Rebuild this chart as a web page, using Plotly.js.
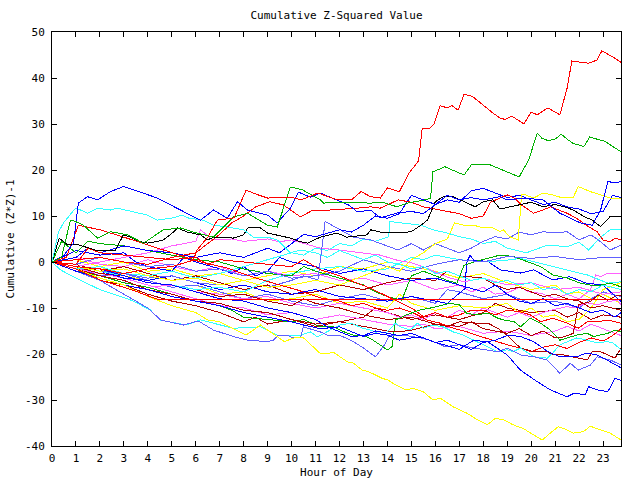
<!DOCTYPE html>
<html><head><meta charset="utf-8">
<script src="https://cdn.plot.ly/plotly-3.0.1.min.js"></script>
<style>html,body{margin:0;padding:0;background:#fff}#chart{width:640px;height:480px}
.scatterlayer path.js-line{shape-rendering:crispEdges}</style>
</head><body><div id="chart"></div>
<script>
const titleText = 'Cumulative Z-Squared Value';
const xTitle = 'Hour of Day';
const yTitle = 'Cumulative (Z*Z)-1';
const xTickVals = [0,1,2,3,4,5,6,7,8,9,10,11,12,13,14,15,16,17,18,19,20,21,22,23];
const yTickVals = [-40,-30,-20,-10,0,10,20,30,40,50];

const r1Hours = [0,1,2,3,4,5,5.9,6.05,6.5,6.9,7.6,8.1,8.6,9,9.95,10.4,11.1,11.9,12.5,12.9,13.3,13.7,14,14.5,14.9,15.3,15.45,15.75,15.95,16.2,16.5,16.7,16.95,17.2,17.55,17.9,18.4,18.7,18.9,19.2,19.7,20,20.25,20.7,21.2,21.5,21.7,22.1,22.4,22.75,22.95,23.4,23.75];
const r1Vals = [0,-1,-1.5,-2.5,-1.5,-1,0.4,2.6,5.4,9.1,9.6,15.6,14.6,13.9,14.1,13.5,15,13.5,13.5,15.3,14.2,13.9,16.1,15.3,19.3,22,29,29,30,34,33.5,34,33,36.5,36,34.5,32.4,31.3,31,31.7,30,32.6,32,33.5,32,37.8,43.7,43.4,43.2,43.9,45.9,44.6,43.4];

const g1Hours = [0,0.4,0.77,0.98,1.31,1.9,2.44,3.15,3.82,4.65,5.36,5.9,6.74,7.57,8.16,9,9.4,9.95,10.45,11.2,11.33,11.9,13.3,13.8,14.4,14.95,15.2,15.8,15.9,16.4,17.2,17.5,18.2,19.5,19.9,20.25,20.45,20.7,21,21.25,21.5,21.75,22.2,22.45,22.75,23.1,23.4,23.75];
const g1Vals = [0,1,9.1,8.8,8,5.2,6.6,5.9,4.1,7,7.4,6.5,5.4,9.8,10.6,8,7.6,16.3,15.7,13.5,12.8,13,12.8,13,12,13,13.1,13.8,19.6,20.7,18.9,21.1,21.3,18.5,22.2,28,26.9,26.4,26.7,27.8,26.7,25.8,25.1,27.2,26.7,26.2,25.1,24];

const b1Hours = [0,0.5,0.9,1.1,1.48,1.9,2.44,2.98,3.4,4.4,5.36,6.2,6.74,7.32,7.74,8.16,9,9.4,9.95,10.28,10.78,11.2,12.37,12.75,13.3,13.7,14.45,15,15.5,16,16.5,17,17.5,18,18.7,19,19.75,20.5,21.2,22.05,22.55,22.9,23.2,23.5,23.75];
const b1Vals = [0,1.5,4.1,12.8,14.2,13.5,15.3,16.4,15.7,13.9,11.3,9.1,11.3,9.5,13.1,11.3,10.2,8.5,11.7,15.2,14.1,15,12.4,10.9,11.3,9.6,10.7,11,10.5,12.5,14.5,13.5,14,13.5,14.2,13.5,13.9,13.5,10.6,8.5,8,11.3,17.5,17.2,17.5];

const c1Hours = [0,0.27,0.48,0.98,1.19,1.48,1.9,2.44,2.73,3.4,3.98,4.4,5.07,5.44,5.65,6.32,6.74,7.32,7.99,8.41,9,9.4,9.95,10.37,11,11.5,12,12.5,13,13.5,14,14.5,15,15.5,16,16.5,17,17.5,18,18.5,19,19.5,20,20.5,21,21.5,22,22.5,23,23.75];
const c1Vals = [0,6.5,8.5,11.7,11.3,10.6,11.7,11.3,11.7,10.9,10.2,9.1,9.6,10.2,9.6,9.1,8,7.6,7,5.4,5.4,4.8,2,2.6,2,1,2.5,1.5,0.5,1.5,0,-0.5,-1.5,-1,-2.5,-2,-3,-4,-3.5,-4.5,-4,-5,-4.5,-6,-5.5,-7,-6,-6.5,-5,-6];

const k1Hours = [0,0.3,0.65,1.13,1.81,2.65,2.98,3.27,3.69,3.98,4.32,4.65,5.07,5.24,5.65,6.2,6.49,6.74,7.57,7.99,8.2,8.7,9,9.4,9.95,10.37,10.66,11.2,11.9,12.3,13.15,13.3,13.7,14.45,15,15.4,15.67,16,16.33,16.75,17.3,17.67,18,18.4,18.7,19.5,20,20.5,21,21.4,21.75,22.2,22.55,22.9,23.3,23.75];
const k1Vals = [0,5.2,3.7,3.7,2.6,2.6,5.9,5.4,4.4,4.1,4.4,4.8,6.5,7.4,6.5,5.9,4.8,5.4,5.2,5.9,7.6,7.4,6.3,5.9,5.2,4.4,4.1,5.4,6.3,5.4,5.9,7,6.5,6.3,6.6,8,9.1,13.1,14.2,14.2,12.8,12,13.1,13.5,11.5,12.5,13,12,12.5,12,11.3,9.9,9.1,7.7,9.9,9.9];

const y1Hours = [0,1,2,3,4,5,6,6.5,7,8.1,8.7,9.7,10.1,10.5,11.2,11.49,11.74,12.04,12.33,12.58,12.95,13.2,13.79,14.04,14.33,14.75,15.08,15.5,15.9,16.2,16.75,17.33,17.75,18.17,18.5,18.84,19.25,19.67,20.1,20.46,20.8,21.13,21.5,21.76,22.17,22.47,22.9,23.3,23.75];
const y1Vals = [0,-1.5,-3.5,-5,-7.5,-9.5,-11,-12.6,-13,-15.9,-13.7,-17.3,-16.5,-16.5,-19.9,-19.9,-19.6,-20.6,-21.7,-22,-23.5,-23.8,-25.3,-25.7,-26.7,-27.8,-27.5,-28.2,-30,-29.6,-31.5,-32.9,-34.3,-35.4,-34,-34.3,-35.4,-36.2,-37.6,-38.7,-37.2,-35.8,-36.5,-37.2,-36.9,-35.7,-36.5,-37.2,-38.7];

const b2Hours = [0,1,2,3,4,5,6,7,8,9,10,10.5,11.2,12,12.5,13,13.5,14,14.5,15,15.5,16,16.5,17,17.6,18.2,19,19.55,20.25,20.8,21.5,21.8,22.25,22.4,22.75,23.2,23.5,23.75];
const b2Vals = [0,-2,-3.5,-5,-6,-7.5,-8.5,-9.5,-11,-12,-13,-13.7,-14.5,-14.1,-15.2,-16.2,-15.5,-15.9,-17,-16.5,-16.5,-17.5,-18.2,-19,-17,-17.4,-20.2,-23.5,-26,-27.8,-29.3,-28.5,-28.9,-27.1,-27.8,-28.2,-25.3,-25.7];

const b3Hours = [0,1,2,3,4,5,6,7,8,9,10,11,11.5,12,12.5,13,13.5,14,14.5,15,15.5,16,16.5,17,17.5,18,18.5,19.05,19.55,20.1,20.7,21.2,21.9,22.3,22.75,23.3,23.75];
const b3Vals = [0,-1,-1.5,-3,-4.5,-5,-6.5,-8,-8.5,-10,-11,-12.5,-14.1,-15.2,-16.2,-16,-15,-15.5,-16,-15.5,-16.5,-17.5,-17,-18,-19,-17.5,-17,-15.9,-16.2,-17.3,-19.5,-20.6,-20.6,-19.8,-20.2,-21.7,-23];

const sb1Hours = [0,1,2,3,4,4.53,4.94,5.49,6.1,6.74,7.57,8.16,9,9.24,9.45,9.82,10.07,10.37,10.49,11.2,11.5,12,12.58,13,13.5,13.83,14.1,14.66,15.37,15.79,16.4,17.04,17.6,18.17,18.6,19,19.55,20.1,20.67,21.2,21.63,21.97,22.47,22.76,23.3,23.75];
const sb1Vals = [0,-2,-4,-7,-10,-12.6,-13,-13.7,-12.8,-14.8,-16.2,-17,-17.3,-17,-15.9,-15.9,-16.5,-16.5,-14.1,-15.2,-15.9,-15.9,-17.3,-18.7,-20.6,-18.4,-15.9,-15.9,-16.5,-17,-18.4,-18,-18.7,-19.1,-19.5,-18.7,-20.2,-20.6,-21.3,-24.2,-22,-23.5,-22.4,-20.6,-21.3,-22.4];

const c2Hours = [0,0.35,1,2,3.3,4.1,4.5,5.6,6.2,6.7,7.57,8.7,9.4,9.8,10.37,10.8,11.08,12,12.5,12.95,13.3,13.6,14,14.33,14.54,14.95,15.25,15.5,15.9,16.33,16.75,17.17,17.6,18.17,18.6,19,19.25,19.55,20.1,20.67,20.9,21.2,21.5,21.9,22.34,22.76,23.17,23.42,23.75];
const c2Vals = [0,-1.7,-3.5,-6,-8.3,-10.4,-12.6,-13.7,-12.6,-13.3,-14.4,-14.1,-15.9,-15.9,-15.9,-15.2,-16.3,-13.7,-13.3,-14.4,-14.8,-15.5,-15.2,-13.3,-14.1,-14.8,-13.3,-14.4,-13.7,-14.1,-15.2,-15.9,-17,-18.4,-19.5,-19.1,-19.5,-18.7,-20.6,-20.9,-19.8,-18,-17.3,-16.5,-17,-17.6,-17.3,-17.6,-19.1];

const dr1Hours = [0,1,2,3,4,5,6,7,8,9,10,11,12,13,14,14.5,15,15.5,16,16.5,17,17.75,18.2,18.6,19,19.55,20.1,20.67,20.9,21.35,21.9,22.34,22.55,22.9,23.2,23.5,23.75];
const dr1Vals = [0,-1.5,-3,-4,-6,-7,-8.5,-9,-10.5,-11,-12.5,-13.5,-13,-14,-15,-15.2,-14.8,-14.2,-13.5,-14,-13,-13.3,-13.3,-14.4,-15.9,-18.7,-19.5,-19.5,-20.2,-20.2,-20.9,-21.3,-19.5,-19.5,-20.2,-20.9,-18.7];

const g2Hours = [0,1,2,3,4,5,6,7,7.5,8,9,10,10.5,11.2,11.74,12.2,12.58,13,13.4,14,14.2,14.33,14.8,15.3,15.8,16.2,16.6,17,17.3,17.7,18.2,18.6,18.85,19.3,19.55,19.96,20.4,20.8,21.2,21.5,21.9,22.34,22.6,23.2,23.5,23.75];
const g2Vals = [0,-2,-3,-4.5,-5.5,-7,-8.5,-9.5,-10.5,-12,-12.5,-13,-12.5,-14.1,-14.1,-15.2,-15.9,-15.9,-17,-19.1,-18.4,-12.6,-11.5,-10.5,-10,-9.5,-9,-9.3,-11.1,-11.5,-11.1,-12.2,-12.6,-13,-14.1,-12.2,-13.3,-14.8,-17,-16.5,-15.9,-15.5,-16.2,-15.5,-14.8,-15.2];

const r6Hours = [0,1,1.5,2,3,4,5,6,6.5,7,8,9,10,10.5,11.2,11.9,12.58,13.3,14,14.5,15.1,15.5,16,16.5,17,17.5,18,18.5,19,19.55,19.96,20.4,20.9,21.5,21.97,22.34,22.8,23.17,23.75];
const r6Vals = [0,-0.5,3,2,1.5,1,0.5,1,-0.5,0.5,0,-0.5,-1,0.5,-1.7,-2.8,-4.3,-5.7,-7.5,-8.9,-10.3,-11.9,-11,-12,-11.5,-10.5,-10.5,-11.5,-10.5,-10.8,-11.5,-13,-12.2,-13.3,-14.4,-13,-13,-12.6,-13.3];

const r5Hours = [0,0.6,1.1,2,3,4,5,6.2,7.3,8.4,9.5,10.2,11.2,12,12.5,13,13.5,14,14.5,15.1,15.66,16.2,16.75,17.33,17.9,18.4,19,19.55,20,20.5,21,21.5,22,22.5,23,23.4,23.75];
const r5Vals = [0,1,8,7,5.4,3.7,2,0,-1.3,-3.3,-5,-6,-7.8,-8.5,-9.5,-9,-10,-10.5,-10,-11.1,-12.6,-13.3,-14.4,-15.2,-16.2,-17,-18,-18.7,-19.5,-18.5,-18,-18.8,-17.5,-16.5,-17.2,-16,-14.5];

const r3Hours = [0,1,2,3.3,4.4,6,8,10,12,14,16,18,20,22,23.75];
const r3Vals = [0,-1.5,-3.9,-6,-8.1,-8.1,-8.1,-8.1,-8.1,-8.1,-8.1,-8.1,-8.1,-8.1,-8.1];

const r4Hours = [0,1,2,3,4,5,6,6.5,7,7.5,8,8.5,9.1,9.66,10.37,10.9,11.6,12.75,13.3,13.7,14,14.45,15,15.5,16,16.5,17,17.5,18,18.3,18.7,19,19.3,19.6,20.1,20.5,20.8,21.5,21.9,22.3,22.75,23,23.3,23.5,23.75];
const r4Vals = [0,0.5,1,0,-0.5,1,2,4,6,8.5,10,12,13.1,12.4,9.8,11.3,11.3,11.7,12,11.7,12.4,13.5,13,12,11.5,11,10.5,9.5,10,13,13.9,14.6,13.9,12.4,10.6,11.3,12,10.6,9.5,8,6.6,4.8,4.4,5.2,4.8];

const y2Hours = [0,1,2,3,4,5,6,7,8,9,10,11,12,13,14,14.5,15,15.5,16,16.5,16.8,17.2,17.6,18,18.4,18.7,18.84,19.1,19.46,19.6,19.75,20.1,20.5,20.9,21.2,21.76,21.97,22.47,22.9,23.3,23.75];
const y2Vals = [0,-1,-2,-1.5,-3,-4,-3.5,-5,-4,-5.5,-5,-4,-5,-3,-1,-2,0.5,2,4,5,8.5,8,8,7.4,7.4,6.6,7,5.5,4.8,14.6,14.6,13.9,15,14.6,14.1,14.1,16.4,15.3,14.6,13.9,13.7];

const b4Hours = [0,1,1.5,2,3,4,5,6,7,8,9,9.5,10,10.5,11,12,12.5,13,13.5,14,14.5,15,15.5,16,16.5,17,17.5,18,18.5,19,19.5,20,20.5,21,21.5,22,22.5,23,23.4,23.75];
const b4Vals = [0,1,3,2,3.5,2.5,2,1,2,1,3,2,4,6,5.5,7,6.5,8,10,9.5,10.5,14.5,13.5,12.5,13.5,13,15.5,16,15,14,14.5,13.5,12.5,13,12,11.5,10.5,11,14.5,14];

const sb2Hours = [0,1,2,3,4,5,6,7,8,9,10,10.5,11.1,11.4,11.9,12.6,13.3,13.9,14.45,15,15.5,16,16.5,17,17.5,18,18.5,19,19.5,20,20.5,21,21.5,22,22.5,22.9,23.3,23.75];
const sb2Vals = [0,-1,-2,-2.5,-3.5,-3,-4.5,-5,-4,-5.5,-4,-3,-3.9,8.8,7.4,5.4,4.8,3.7,2.6,4,2.6,4,3,2,3,4.5,5.5,5,6.5,5.9,6.6,6.3,6.6,4.8,5.9,4.4,2.6,3.7];

const sb3Hours = [0,1,2,3,4,5,6,7,8,9,10,11,12,13,14,15,16,17,18,19,20,21,22,23,23.75];
const sb3Vals = [0,-0.5,1,0,-1,-0.5,-2,-1.5,-3,-2,-3.5,-3,-2,0.5,-1,-2,-0.5,0.5,0,1.2,0.8,1.2,0.5,1,1];

const g3Hours = [0,0.4,1,1.5,2,3,4,5,6,7,8,9,10,10.5,11,12,13,13.5,14,14.6,15,15.5,16,16.5,16.9,17.2,17.6,18,18.7,19.25,19.8,20.4,20.9,21.5,22.05,22.47,22.9,23.3,23.75];
const g3Vals = [0,4.5,2,4.5,4,3.5,2.5,1.5,0.5,0,-1.5,-2.5,-3,-1,-2,-3.5,-5,-6.5,-7.5,-8.3,-3,-2,-3,-4,-4.6,-0.7,0,0.5,1.5,1.2,0.1,-1,-2.8,-3.5,-4.6,-5,-5,-4.6,-5.4];

const m1Hours = [0,1,2,3,4,5,6,7,8,9,10,11,12,13,14,14.5,15,15.5,16,16.5,17,17.5,18,18.5,19,19.5,20,20.5,20.9,21.5,21.76,22.34,22.76,23.2,23.6,23.75];
const m1Vals = [0,-2,-3,-4.5,-5.5,-5,-6.5,-7,-8,-7.5,-9,-10,-9,-10,-11,-12,-11.5,-12.5,-11,-12,-10.5,-11.5,-10,-11,-12,-11,-12,-11,-10.4,-9.7,-10,-8.9,-9.3,-8.6,-8.3,-9.3];

const m2Hours = [0,1,2,3,4,5,6,7,8,9,10,11,12,13,14,15,16,17,17.5,18,18.5,19.1,19.55,19.9,20.4,21,21.5,22,22.47,22.7,22.9,23.2,23.75];
const m2Vals = [0,1,-0.5,-1,0.5,-1,-2,-1,-3,-2,-3,-2.5,-4,-3.5,-5,-4,-6,-5,-6.5,-5.5,-7,-6.5,-5.4,-6.5,-6.8,-8,-7,-8,-6.1,-2.8,-3.2,-2.4,-2.4];

const m3Hours = [0,1,2,3,4,5,6,7,8,9,10,11,12,13,14,15,15.5,16,17,18,19,20,21,21.5,22,22.5,23,23.75];
const m3Vals = [0,-1.5,-2.5,-3.5,-5,-6.5,-8,-9.5,-10,-11.5,-11,-12.5,-11.5,-12.5,-13.5,-14,-13.5,-14.5,-14,-15.5,-15,-16,-15,-14,-15,-13.5,-14.5,-16];

const m4Hours = [0,1,2,3,4,5,6,6.2,6.7,7.5,8,9,9.5,10,10.8,11.2,12,12.9,13.7,14.4,15.1,15.8,16.5,17.2,18,19,20,21,22,23,23.75];
const m4Vals = [0,-1,0,1,2,3.5,4.5,7,4.8,5,4.5,5,4.4,4.8,3.7,3,2.6,2,1.5,0.4,-0.3,-1.7,-3.3,-4.3,-3.5,-5,-4.5,-6,-5.5,-7,-6.5];

const c3Hours = [0,1,2,3,4,5,6,7,8,9,10,11,12,13,14,15,15.5,16,17,18,19,19.55,20.1,20.9,21.76,22.34,23.2,23.75];
const c3Vals = [0,-1,-2,-3,-4.5,-5,-6,-5.5,-6.5,-4,-2.5,-1.5,-1,-2,-1.5,1,0.5,1.5,0.5,0,0.4,0.8,0.1,-1,-2.1,-2.8,-4.6,-4.3];

const c4Hours = [0,1,2,3,4,5,6,7,8,9,10,10.5,11,11.5,12,12.5,13,13.5,14.05,14.1,14.8,15.4,15.9,16.5,17,17.5,18,18.5,19,19.8,20.7,21.5,22,22.4,22.9,23.3,23.75];
const c4Vals = [0,-1.5,-1,-2.5,-3,-2,-3.5,-2.5,-1,0.5,2,1.5,3,2.5,4,3.5,5,4.5,5.5,8.8,8.4,8,7,6.3,5.5,5,4,4.5,3,2,3.7,3.3,4.3,2.6,5.4,7,7];

const b5Hours = [0,1,2,3,4,5,6,7,8,9,10,11,12,13,14,15,16,16.5,17.25,17.3,17.45,17.6,18.2,18.7,19.55,20.1,20.9,21.6,22.3,23,23.75];
const b5Vals = [0,-1,-2,-3.5,-4,-3,-4.5,-6,-5,-6.5,-7,-6,-7.5,-8,-8.5,-7.5,-8.5,-9,-5.7,-0.2,1.5,0.4,0.1,-1.7,-2.4,-1.7,-3.9,-3.2,-4.6,-5,-8.6];

const b6Hours = [0,1,2,3,3.5,4,5,5.5,6,7,7.5,8,8.5,9,9.5,10,11,12,13,14,15,16,17,18,18.5,19,19.5,20,20.5,21,21.5,22,22.5,23,23.5,23.75];
const b6Vals = [0,2.5,1.5,2,0,-1,-2,1,0,-1.5,-2.5,-1,-3,-2,1,0,-1,-2.5,-1.5,-3,-4,-3.5,-5,-6.5,-5,-7,-8.5,-9,-8,-9.5,-9,-10,-11,-10.5,-12,-11];

const dr2Hours = [0,1,2,3,4,5,6,7,8,9,10,10.5,11,12,13,14,15,16,17,17.5,18,19,19.5,20,20.5,21,21.35,21.76,21.97,22.47,22.8,23.2,23.6,23.75];
const dr2Vals = [0,-1,-2.5,-3,-4.5,-5,-6,-7.5,-7,-8.5,-9.5,-8,-9,-10,-11.5,-12.5,-12,-13.5,-14,-13,-14.5,-15.5,-14.5,-16,-15,-16.5,-16.3,-15.5,-9.3,-8.6,-7.2,-8.3,-7.2,-7.2];

const dr3Hours = [0,1,2,3,4,5,6,7,8,9,10,11,12,13,14,15,16,16.5,17,18,18.5,19,19.5,20,20.5,21,21.5,22,22.5,23,23.75];
const dr3Vals = [0,-0.5,-2,-1,-2.5,-4,-3,-4.5,-6,-5,-7,-6.5,-5,-6,-4.5,-3.5,-4,-2,-3,-3.5,-5,-6,-5.5,-6.5,-7.5,-7,-8,-8.5,-10,-9.5,-10.5];

const dr4Hours = [0,1,2,3,4,5,6,7,7.5,8,8.5,9,10,11,12,13,13.5,14,15,16,17,18,18.5,19,20,21,21.5,22,22.5,23,23.75];
const dr4Vals = [0,-2,-4,-5,-7,-8.5,-9.5,-11,-12,-13,-12,-13.5,-12.5,-14,-13,-12,-10,-11,-12.5,-11.5,-12.5,-11,-9,-10,-11,-10.5,-12,-11,-12.5,-11.5,-12];

const y3Hours = [0,1,2,3,4,5,6,7,8,9,10,11,12,13,14,14.5,15,16,17,18,19,19.5,20,20.5,21,21.5,22,22.5,23,23.75];
const y3Vals = [0,-1.5,-1,-3,-4,-5.5,-5,-7,-6.5,-8.5,-8,-7,-9,-8.5,-10,-7,-9,-10.5,-9.5,-10,-9,-11,-10,-12,-11.5,-13,-12.5,-10,-6,-4.5];

const y4Hours = [0,1,2,3,4,5,6,7,8,9,10,11,12,13,14,15,16,17,18,19,20,21,21.5,22,22.5,23,23.75];
const y4Vals = [0,0.5,-1,0,-2,-1.5,-3,-2.5,-4,-3,-2,-3,-1,-1.5,0,-1,-2,-3.5,-2.5,-4.5,-6,-5,-7,-6.5,-8,-7,-9];

const sb4Hours = [0,1,2,3,4,5,6,7,8,9,10,11,12,13,14,15,16,16.5,17,18,19,20,21,22,22.5,23,23.75];
const sb4Vals = [0,-1,-3,-2.5,-4,-5.5,-5,-6.5,-8,-7,-8.5,-9.5,-8,-7,-8.5,-7.5,-9,-6,-6.5,-8,-7,-9,-8.5,-10,-8,-6.5,-7.5];

// ---- styles ----
const RED = '#ff0000', GREEN = '#00b000', BLUE = '#0000ff', MAGENTA = '#ff60ff',
      CYAN = '#30ffff', DARKRED = '#b00000', YELLOW = '#ffff00', BLACK = '#000000', SLATE = '#6060ff';

const series = [
  [dr4Hours, dr4Vals, DARKRED], [y3Hours, y3Vals, YELLOW], [y4Hours, y4Vals, YELLOW],
  [sb4Hours, sb4Vals, SLATE], [m3Hours, m3Vals, MAGENTA], [m2Hours, m2Vals, MAGENTA],
  [m1Hours, m1Vals, MAGENTA], [dr3Hours, dr3Vals, DARKRED], [dr2Hours, dr2Vals, DARKRED],
  [b6Hours, b6Vals, BLUE], [b5Hours, b5Vals, BLUE], [c4Hours, c4Vals, CYAN],
  [c3Hours, c3Vals, CYAN], [m4Hours, m4Vals, MAGENTA], [g3Hours, g3Vals, GREEN],
  [sb3Hours, sb3Vals, SLATE], [sb2Hours, sb2Vals, SLATE], [b4Hours, b4Vals, BLUE],
  [y2Hours, y2Vals, YELLOW], [r4Hours, r4Vals, RED], [r5Hours, r5Vals, RED],
  [r6Hours, r6Vals, RED], [g2Hours, g2Vals, GREEN], [dr1Hours, dr1Vals, DARKRED],
  [c2Hours, c2Vals, CYAN], [sb1Hours, sb1Vals, SLATE], [b3Hours, b3Vals, BLUE],
  [b2Hours, b2Vals, BLUE], [y1Hours, y1Vals, YELLOW], [k1Hours, k1Vals, BLACK],
  [c1Hours, c1Vals, CYAN], [b1Hours, b1Vals, BLUE], [g1Hours, g1Vals, GREEN],
  [r1Hours, r1Vals, RED], [r3Hours, r3Vals, RED]
];

const traces = series.map(([x, y, color]) => ({
  type: 'scatter', mode: 'lines', x: x, y: y,
  line: {color: color, width: 1}, hoverinfo: 'skip'
}));

const FONT = {family: '"DejaVu Sans Mono", "Liberation Mono", monospace', size: 11, color: '#000'};

const axisBase = {
  ticks: 'inside', ticklen: 5, tickwidth: 1, tickcolor: '#000',
  showline: true, linecolor: '#000', linewidth: 1, mirror: 'ticks',
  showgrid: false, zeroline: false, tickfont: FONT, fixedrange: true, automargin: false
};

const layout = {
  width: 640, height: 480,
  margin: {l: 52, r: 19, t: 32, b: 34, pad: 0},
  paper_bgcolor: '#ffffff', plot_bgcolor: '#ffffff',
  showlegend: false, font: FONT,
  title: {text: titleText, font: FONT, x: 0.5, xref: 'paper', xanchor: 'center',
          y: 1 - 15 / 480, yref: 'container', yanchor: 'middle'},
  xaxis: Object.assign({}, axisBase, {
    range: [0, 23.75], tickmode: 'array', tickvals: xTickVals, ticktext: xTickVals.map(String),
    ticklabelstandoff: 2,
    title: {text: xTitle, font: FONT, standoff: 4}
  }),
  yaxis: Object.assign({}, axisBase, {
    range: [-40, 50], tickmode: 'array', tickvals: yTickVals, ticktext: yTickVals.map(String),
    ticklabelstandoff: 4,
    title: {text: yTitle, font: FONT, standoff: 8}
  })
};

Plotly.newPlot('chart', traces, layout, {displayModeBar: false, staticPlot: true});
</script>
</body></html>
